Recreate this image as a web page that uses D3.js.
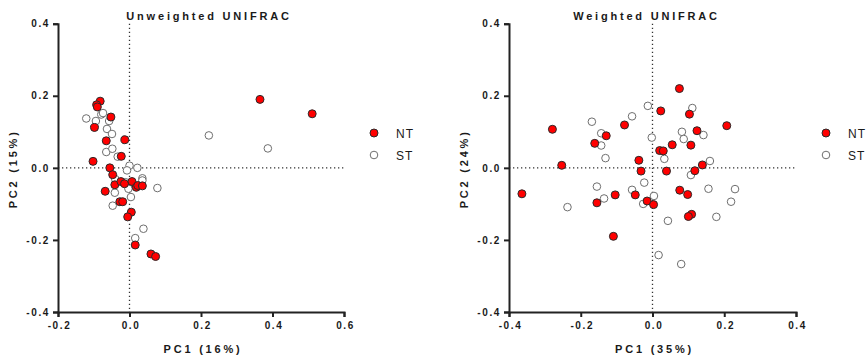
<!DOCTYPE html>
<html>
<head>
<meta charset="utf-8">
<script src="https://cdn.jsdelivr.net/npm/d3@7"></script>
<style>
  body { margin: 0; background: #fff; }
  text { font-family: "Liberation Sans", Arial, sans-serif; fill: #1a1a1a; }
  .tick text { font-size: 10px; font-weight: bold; letter-spacing: 1.6px; }
  .axis path, .axis line { stroke: #222; }
  .title, .axlabel { font-size: 11px; font-weight: bold; letter-spacing: 2.8px; }
  .legend text { font-size: 12px; letter-spacing: 1px; }
</style>
</head>
<body>
<script>
// ---- data ----
var panelTitles = ["Unweighted UNIFRAC", "Weighted UNIFRAC"];
var xLabels = ["PC1 (16%)", "PC1 (35%)"];
var yLabels = ["PC2 (15%)", "PC2 (24%)"];
var groups = ["NT", "ST"];
var xTicksLeft = [-0.2, 0.0, 0.2, 0.4, 0.6];
var xTicksRight = [-0.4, -0.2, 0.0, 0.2, 0.4];
var yTicks = [-0.4, -0.2, 0.0, 0.2, 0.4];

// unweighted: [PC1, PC2]
var unweightedNT = [
  [-0.082, 0.185], [-0.092, 0.175], [-0.090, 0.169], [-0.052, 0.141], [-0.098, 0.112],
  [-0.065, 0.075], [-0.013, 0.078], [-0.023, 0.032], [-0.102, 0.018], [-0.055, 0.000],
  [-0.047, -0.019], [-0.041, -0.047], [-0.024, -0.038], [-0.014, -0.044], [0.007, -0.038],
  [0.019, -0.054], [0.023, -0.049], [0.036, -0.050], [-0.068, -0.065], [-0.027, -0.094],
  [-0.019, -0.094], [0.005, -0.123], [-0.005, -0.136], [0.016, -0.214], [0.060, -0.239],
  [0.073, -0.246], [0.365, 0.190], [0.511, 0.150]
];
var unweightedST = [
  [-0.121, 0.137], [-0.094, 0.130], [-0.079, 0.148], [-0.074, 0.152], [-0.057, 0.130],
  [-0.063, 0.108], [-0.049, 0.094], [-0.065, 0.044], [-0.048, 0.053], [-0.033, 0.031],
  [0.000, 0.006], [0.022, 0.000], [-0.007, -0.007], [-0.040, -0.031], [-0.011, -0.040],
  [0.036, -0.029], [0.036, -0.035], [-0.003, -0.058], [-0.041, -0.069], [0.004, -0.081],
  [-0.047, -0.105], [0.078, -0.056], [0.039, -0.169], [0.016, -0.195], [0.222, 0.090],
  [0.387, 0.054]
];

// weighted: [PC1, PC2]
var weightedNT = [
  [-0.364, -0.072], [-0.279, 0.107], [-0.253, 0.007], [-0.161, 0.068], [-0.129, 0.089],
  [-0.155, -0.097], [-0.104, -0.075], [-0.109, -0.190], [-0.078, 0.119], [-0.038, 0.021],
  [-0.032, -0.009], [-0.048, -0.075], [-0.015, -0.092], [0.003, -0.102], [0.023, 0.158],
  [0.020, 0.048], [0.030, 0.047], [0.039, -0.009], [0.055, 0.064], [0.075, 0.220],
  [0.103, 0.149], [0.124, 0.103], [0.107, 0.063], [0.139, 0.008], [0.118, -0.008],
  [0.076, -0.062], [0.098, -0.074], [0.109, -0.129], [0.100, -0.135], [0.207, 0.117]
];
var weightedST = [
  [-0.169, 0.128], [-0.143, 0.096], [-0.143, 0.062], [-0.131, 0.027], [-0.057, 0.143],
  [-0.013, 0.172], [-0.002, 0.084], [0.033, 0.025], [0.082, 0.100], [0.087, 0.080],
  [0.111, 0.166], [0.142, 0.091], [0.160, 0.019], [0.107, -0.020], [-0.155, -0.052],
  [-0.135, -0.085], [-0.237, -0.109], [-0.057, -0.061], [-0.023, -0.041], [-0.026, -0.100],
  [0.004, -0.078], [0.043, -0.147], [0.156, -0.058], [0.230, -0.059], [0.219, -0.094],
  [0.178, -0.136], [0.017, -0.242], [0.080, -0.267]
];

// ---- layout ----
var W = 866, H = 362;
var yTop = 23.7, yBottom = 312;

var panels = [
  { title: panelTitles[0], xl: xLabels[0], yl: yLabels[0], xTicks: xTicksLeft,
    xDomain: [-0.2, 0.6], xRange: [58, 344], nt: unweightedNT, st: unweightedST, legX: 374 },
  { title: panelTitles[1], xl: xLabels[1], yl: yLabels[1], xTicks: xTicksRight,
    xDomain: [-0.4, 0.4], xRange: [509, 796], nt: weightedNT, st: weightedST, legX: 826 }
];

// plain hyphen for negatives, like the original
var fmt = function(d) { return d3.format(".1f")(d).replace("\u2212", "-"); };

var svg = d3.select("body").append("svg")
    .attr("width", W)
    .attr("height", H);

panels.forEach(function(p, pi) {
  var x = d3.scaleLinear().domain(p.xDomain).range(p.xRange);
  var y = d3.scaleLinear().domain([-0.4, 0.4]).range([yBottom, yTop]);
  var g = svg.append("g");

  // dotted zero lines
  g.append("line")
      .attr("x1", p.xRange[0]).attr("x2", p.xRange[1])
      .attr("y1", y(0)).attr("y2", y(0))
      .attr("stroke", "#333").attr("stroke-width", 1.3)
      .attr("stroke-dasharray", "1.3,2.7");
  g.append("line")
      .attr("x1", x(0)).attr("x2", x(0))
      .attr("y1", yTop).attr("y2", yBottom)
      .attr("stroke", "#333").attr("stroke-width", 1.3)
      .attr("stroke-dasharray", "1.3,2.7");

  // axes
  g.append("g")
      .attr("class", "axis")
      .attr("transform", "translate(0," + yBottom + ")")
      .call(d3.axisBottom(x).tickValues(p.xTicks).tickSize(5).tickPadding(5)
            .tickFormat(fmt))
      .call(function(a) {
        a.select(".domain").attr("stroke-width", 2);
        a.selectAll(".tick line").attr("stroke-width", 2);
        a.selectAll(".tick text").attr("dx", "0.1em");
      });

  g.append("g")
      .attr("class", "axis")
      .attr("transform", "translate(" + p.xRange[0] + ",0)")
      .call(d3.axisLeft(y).tickValues(yTicks).tickSize(5).tickPadding(3)
            .tickFormat(fmt))
      .call(function(a) {
        a.select(".domain").attr("stroke-width", 2);
        a.selectAll(".tick line").attr("stroke-width", 2);
      });

  // points: ST below, NT on top
  g.selectAll(".st").data(p.st).enter().append("circle")
      .attr("class", "st")
      .attr("cx", function(d) { return x(d[0]); })
      .attr("cy", function(d) { return y(d[1]); })
      .attr("r", 3.8)
      .attr("fill", "#fff")
      .attr("stroke", "#6e6e6e")
      .attr("stroke-width", 1);

  g.selectAll(".nt").data(p.nt).enter().append("circle")
      .attr("class", "nt")
      .attr("cx", function(d) { return x(d[0]); })
      .attr("cy", function(d) { return y(d[1]); })
      .attr("r", 4)
      .attr("fill", "#ff0000")
      .attr("stroke", "#2a2a2a")
      .attr("stroke-width", 1);

  // titles and labels
  var cx = (p.xRange[0] + p.xRange[1]) / 2;
  g.append("text")
      .attr("class", "title")
      .attr("x", cx + (pi == 0 ? 8 : -6)).attr("y", 20)
      .attr("text-anchor", "middle")
      .text(p.title);

  g.append("text")
      .attr("class", "axlabel")
      .attr("x", cx + 2).attr("y", 353)
      .attr("text-anchor", "middle")
      .text(p.xl);

  g.append("text")
      .attr("class", "axlabel")
      .attr("transform", "translate(" + (p.xRange[0] - 41) + "," + (y(0) + 1) + ") rotate(-90)")
      .attr("text-anchor", "middle")
      .text(p.yl);

  // legend
  var leg = g.append("g").attr("class", "legend");
  groups.forEach(function(name, i) {
    var ly = 133 + i * 22;
    leg.append("circle")
        .attr("cx", p.legX).attr("cy", ly)
        .attr("r", i == 0 ? 4 : 3.8)
        .attr("fill", i == 0 ? "#ff0000" : "#fff")
        .attr("stroke", i == 0 ? "#2a2a2a" : "#6e6e6e");
    leg.append("text")
        .attr("x", p.legX + 22).attr("y", ly + 4.5)
        .text(name);
  });
});
</script>
</body>
</html>
